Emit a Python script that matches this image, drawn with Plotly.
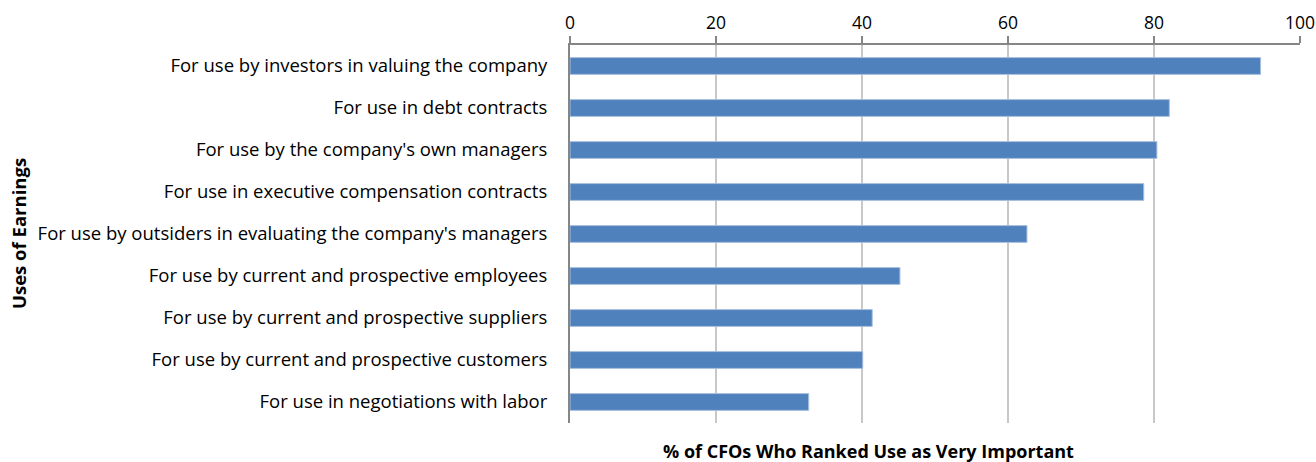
import plotly.graph_objects as go

categories = [
    "For use by investors in valuing the company",
    "For use in debt contracts",
    "For use by the company's own managers",
    "For use in executive compensation contracts",
    "For use by outsiders in evaluating the company's managers",
    "For use by current and prospective employees",
    "For use by current and prospective suppliers",
    "For use by current and prospective customers",
    "For use in negotiations with labor",
]
values = [94.6, 82.1, 80.4, 78.6, 62.6, 45.2, 41.4, 40.1, 32.7]
x_ticks = [0, 20, 40, 60, 80, 100]

font_family = "Open Sans, Lato, sans-serif"

fig = go.Figure(
    go.Bar(
        y=categories,
        x=values,
        orientation="h",
        marker=dict(color="#4f81bd", line=dict(color="#a9c1df", width=1)),
        hoverinfo="x+y",
    )
)

fig.update_layout(
    width=1316,
    height=462,
    margin=dict(l=570, r=16, t=45, b=39),
    paper_bgcolor="white",
    plot_bgcolor="white",
    bargap=0.6,
    showlegend=False,
    font=dict(family=font_family, size=17.5, color="#000000"),
    xaxis=dict(
        side="top",
        range=[0, 100],
        tickvals=x_ticks,
        ticktext=[str(v) for v in x_ticks],
        showgrid=True,
        gridcolor="#c8c8c8",
        gridwidth=1.5,
        showline=True,
        linecolor="#868686",
        linewidth=2,
        ticks="outside",
        ticklen=7,
        tickcolor="#868686",
        tickwidth=1.5,
        zeroline=False,
        automargin=False,
        tickfont=dict(size=17.5),
    ),
    yaxis=dict(
        autorange="reversed",
        showline=True,
        linecolor="#868686",
        linewidth=2,
        ticks="",
        ticklabelstandoff=17,
        automargin=False,
        tickfont=dict(size=18.5),
    ),
    annotations=[
        dict(
            text="<b>% of CFOs Who Ranked Use as Very Important</b>",
            xref="paper", yref="paper",
            x=(868 - 570) / 730, y=0,
            yshift=-28,
            xanchor="center", yanchor="middle",
            showarrow=False,
            font=dict(size=18),
        ),
        dict(
            text="<b>Uses of Earnings</b>",
            xref="paper", yref="paper",
            x=0, xshift=-(570 - 18),
            y=0.5,
            xanchor="center", yanchor="middle",
            textangle=-90,
            showarrow=False,
            font=dict(size=18.5),
        ),
    ],
)

fig.write_html("out.html")
